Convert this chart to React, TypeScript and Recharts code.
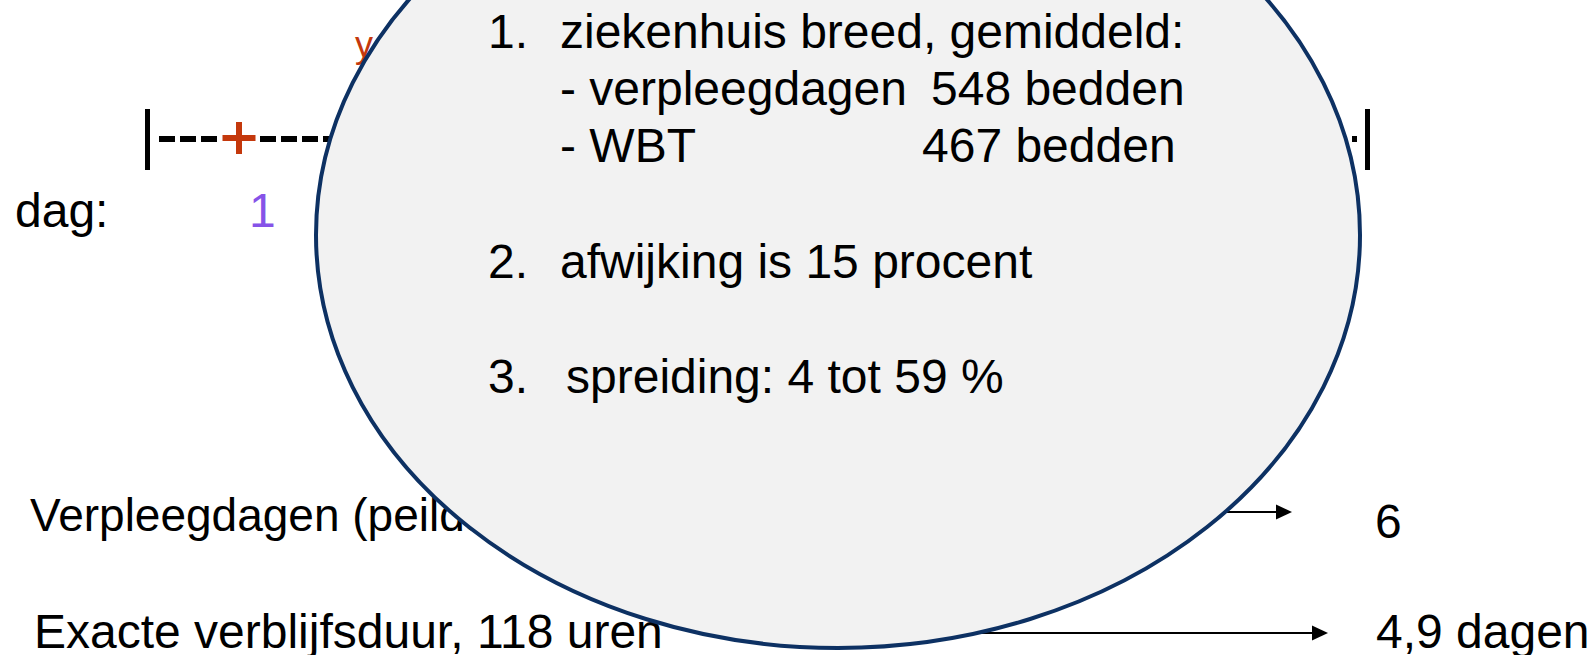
import { ComposedChart, XAxis, YAxis, Scatter } from 'recharts';

const W = 1595;
const H = 655;

// slide content
const BED_LABELS = ['verpleegdagen', 'WBT'];
const BED_COUNTS = [548, 467];
const DEVIATION = [15];
const SPREAD = [4, 59];
const DAY_TICKS = ['1'];
const STAY_HOURS = [118];
const RESULTS = [6, 4.9];

const FONT = '"Liberation Sans", Arial, Helvetica, sans-serif';
const RED = '#c4380c';
const PURPLE = '#8653e8';
const NAVY = '#0d3163';

const nl = (v: number) => String(v).replace('.', ',');

type Pt = { x: number; y: number; text?: string; fill?: string; size?: number; head?: boolean };

// layout (slide px)
const behindText: Pt[] = [
  { x: 355, y: 57, text: 'y', fill: RED, size: 36 },
  { x: 30, y: 531, text: 'Verpleegdagen (peildatum 24:00 uur)', size: 46 },
  { x: 34, y: 648, text: `Exacte verblijfsduur, ${STAY_HOURS[0]} uren` },
];

const frontText: Pt[] = [
  { x: 488, y: 48, text: '1.' },
  { x: 560, y: 48, text: 'ziekenhuis breed, gemiddeld:' },
  { x: 560, y: 105, text: `- ${BED_LABELS[0]}` },
  { x: 931, y: 105, text: `${BED_COUNTS[0]} bedden` },
  { x: 560, y: 162, text: `- ${BED_LABELS[1]}` },
  { x: 922, y: 162, text: `${BED_COUNTS[1]} bedden` },
  { x: 488, y: 278, text: '2.' },
  { x: 560, y: 278, text: `afwijking is ${DEVIATION[0]} procent` },
  { x: 488, y: 393, text: '3.' },
  { x: 566, y: 393, text: `spreiding: ${SPREAD[0]} tot ${SPREAD[1]} %` },
  { x: 15, y: 227, text: 'dag:' },
  { x: 249, y: 227, text: DAY_TICKS[0], fill: PURPLE },
  { x: 1375, y: 538, text: nl(RESULTS[0]) },
  { x: 1376, y: 648, text: `${nl(RESULTS[1])} dagen` },
];

const dashLeft: Pt[] = [{ x: 159, y: 139 }, { x: 217, y: 139 }];
const dashRight: Pt[] = [{ x: 260, y: 139 }, { x: 1357, y: 139 }];
const barLeft: Pt[] = [{ x: 147.5, y: 109 }, { x: 147.5, y: 170 }];
const barRight: Pt[] = [{ x: 1367.5, y: 109 }, { x: 1367.5, y: 170 }];
const arrowTop: Pt[] = [{ x: 1080, y: 512 }, { x: 1276, y: 512, head: true }];
const arrowBottom: Pt[] = [{ x: 700, y: 633 }, { x: 1312, y: 633, head: true }];
const plusMark: Pt[] = [{ x: 239, y: 138 }];
const bubble: Pt[] = [{ x: 838, y: 235 }];

const TextShape = (p: any) => {
  const d: Pt = p.payload;
  return (
    <text x={p.cx} y={p.cy} fontFamily={FONT} fontSize={d.size ?? 48} fill={d.fill ?? '#000'}>
      {d.text}
    </text>
  );
};

const HeadShape = (p: any) =>
  p.payload.head ? (
    <polygon points={`${p.cx},${p.cy - 7.5} ${p.cx},${p.cy + 7.5} ${p.cx + 16},${p.cy}`} fill="#000" />
  ) : (
    <g />
  );

const Nothing = () => <g />;

const PlusShape = (p: any) => (
  <g fill={RED}>
    <rect x={p.cx - 16.5} y={p.cy - 3} width={33} height={6} />
    <rect x={p.cx - 3} y={p.cy - 16} width={6} height={32} />
  </g>
);

const BubbleShape = (p: any) => (
  <ellipse cx={p.cx} cy={p.cy} rx={522} ry={413} fill="#f2f2f2" stroke={NAVY} strokeWidth={4} />
);

const dashed = { stroke: '#000', strokeWidth: 6, strokeDasharray: '16 5' };

export default function App() {
  return (
    <div style={{ position: 'absolute', left: 0, top: 0, width: W, height: H, background: '#fff' }}>
      <ComposedChart width={W} height={H} margin={{ top: 0, right: 0, bottom: 0, left: 0 }}>
        <XAxis type="number" dataKey="x" domain={[0, W]} hide allowDataOverflow />
        <YAxis type="number" dataKey="y" domain={[0, H]} reversed hide allowDataOverflow />

        <Scatter data={behindText} shape={TextShape} isAnimationActive={false} />
        <Scatter data={barLeft} line={{ stroke: '#000', strokeWidth: 5 }} shape={Nothing} isAnimationActive={false} />
        <Scatter data={barRight} line={{ stroke: '#000', strokeWidth: 5 }} shape={Nothing} isAnimationActive={false} />
        <Scatter data={dashLeft} line={dashed} shape={Nothing} isAnimationActive={false} />
        <Scatter data={dashRight} line={dashed} shape={Nothing} isAnimationActive={false} />
        <Scatter data={plusMark} shape={PlusShape} isAnimationActive={false} />
        <Scatter data={arrowTop} line={{ stroke: '#000', strokeWidth: 2 }} shape={HeadShape} isAnimationActive={false} />
        <Scatter data={arrowBottom} line={{ stroke: '#000', strokeWidth: 2 }} shape={HeadShape} isAnimationActive={false} />

        <Scatter data={bubble} shape={BubbleShape} isAnimationActive={false} />

        <Scatter data={frontText} shape={TextShape} isAnimationActive={false} />
      </ComposedChart>
    </div>
  );
}
